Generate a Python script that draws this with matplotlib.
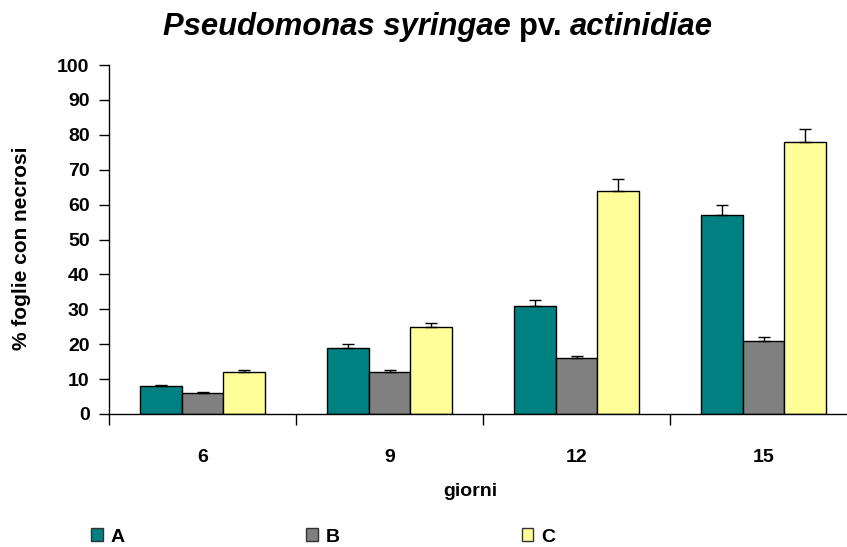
import matplotlib.pyplot as plt
import numpy as np
from matplotlib.patches import Patch

plt.rcParams["font.family"] = ["Liberation Sans", "DejaVu Sans"]
plt.rcParams["font.weight"] = "bold"

giorni = ["6", "9", "12", "15"]
series = ["A", "B", "C"]
val_a = [8, 19, 31, 57]
val_b = [6, 12, 16, 21]
val_c = [12, 25, 64, 78]
err_a = [0.4, 1.0, 1.6, 2.8]
err_b = [0.4, 0.6, 0.6, 1.1]
err_c = [0.7, 1.2, 3.4, 3.7]
colors = ["#008080", "#808080", "#FFFF99"]

fig = plt.figure(figsize=(8.47, 5.47), dpi=100)
ax = fig.add_axes([109 / 847, 1 - 414 / 547, 748 / 847, 349 / 547])

x = np.arange(len(giorni))
width = 0.222
for i, (vals, errs) in enumerate(zip([val_a, val_b, val_c], [err_a, err_b, err_c])):
    pos = x + (i - 1) * width
    ax.bar(pos, vals, width, color=colors[i], edgecolor="black", linewidth=1.0, zorder=2)
    ax.errorbar(pos, vals, yerr=[np.zeros(len(errs)), errs], fmt="none",
                ecolor="black", elinewidth=1.0, capsize=4, capthick=1.0, zorder=3)

ax.set_xlim(-0.5, 3.5)
ax.set_ylim(0, 100)
ax.set_yticks(np.arange(0, 101, 10))
ax.set_xticks(x)
ax.set_xticklabels(giorni)
ax.set_xticks(np.arange(-0.5, 4.0, 1.0), minor=True)
ax.tick_params(axis="x", which="major", length=0, pad=25, labelsize=14)
ax.tick_params(axis="x", which="minor", length=8, width=1, direction="out")
ax.tick_params(axis="y", length=7, width=1, direction="out", labelsize=14, pad=7)
for lab in ax.get_xticklabels() + ax.get_yticklabels():
    lab.set_fontweight("bold")
ax.spines["top"].set_visible(False)
ax.spines["right"].set_visible(False)
ax.spines["left"].set_linewidth(1)
ax.spines["bottom"].set_linewidth(1)

fig.text(470 / 847, 1 - 491 / 547, "giorni", fontsize=14, fontweight="bold",
         ha="center", va="center")
fig.text(22 / 847, 1 - 248 / 547, "% foglie con necrosi", rotation=90,
         fontsize=15, fontweight="bold", ha="center", va="center")

# title in pieces: italic + normal
fig.canvas.draw()
r = fig.canvas.get_renderer()
parts = [("Pseudomonas syringae ", "italic"), ("pv. ", "normal"), ("actinidiae", "italic")]
texts = []
for s, st in parts:
    t = fig.text(0, 0, s, fontsize=22.3, fontweight="bold", style=st, va="center")
    texts.append(t)
widths = [t.get_window_extent(r).width for t in texts]
total = sum(widths)
x0 = 438 - total / 2
for t, w in zip(texts, widths):
    t.set_position((x0 / 847, 1 - 27 / 547))
    x0 += w

handles = [Patch(facecolor=c, edgecolor="#333333", linewidth=1) for c in colors]
fig.legend(handles, series, loc="center left", bbox_to_anchor=(91 / 847, 1 - 537 / 547),
           ncol=3, frameon=False, fontsize=14, handlelength=0.6, handleheight=0.6,
           handletextpad=0.4, columnspacing=9.35, borderaxespad=0, borderpad=0)

fig.savefig("out.png", dpi=100)
